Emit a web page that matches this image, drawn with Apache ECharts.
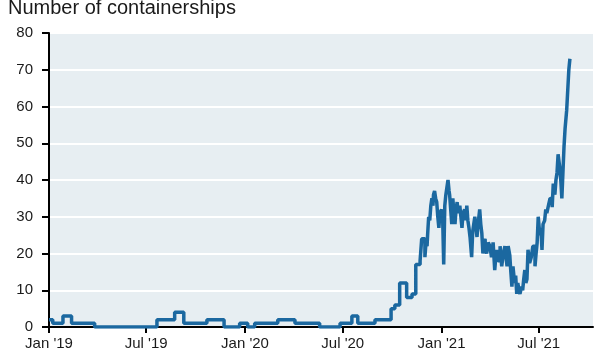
<!DOCTYPE html>
<html>
<head>
<meta charset="utf-8">
<script src="https://cdn.jsdelivr.net/npm/echarts@6/dist/echarts.min.js"></script>
<style>
html,body{margin:0;padding:0;background:#fff;}
#chart{width:601px;height:360px;}
</style>
</head>
<body>
<div id="chart"></div>
<script>
const title = 'Number of containerships';
const dates = [
 '2019-01-01','2019-01-08','2019-01-27','2019-02-12','2019-03-27','2019-07-21','2019-08-23','2019-09-09',
 '2019-10-22','2019-11-23','2019-12-22','2020-01-06','2020-01-19','2020-03-02','2020-04-03','2020-05-19',
 '2020-06-26','2020-07-18','2020-07-29','2020-08-30','2020-09-29','2020-10-06','2020-10-15','2020-10-28',
 '2020-11-07','2020-11-14','2020-11-22','2020-11-25','2020-12-01','2020-12-03','2020-12-05','2020-12-06',
 '2020-12-08','2020-12-10','2020-12-12','2020-12-14','2020-12-16','2020-12-17','2020-12-19','2020-12-21',
 '2020-12-23','2020-12-25','2020-12-27','2020-12-29','2021-01-01','2021-01-03','2021-01-05','2021-01-07',
 '2021-01-09','2021-01-11','2021-01-13','2021-01-15','2021-01-16','2021-01-18','2021-01-20','2021-01-22',
 '2021-01-24','2021-01-26','2021-01-28','2021-01-30','2021-02-01','2021-02-04','2021-02-06','2021-02-08',
 '2021-02-10','2021-02-13','2021-02-15','2021-02-17','2021-02-19','2021-02-21','2021-02-23','2021-02-26',
 '2021-02-28','2021-03-02','2021-03-04','2021-03-06','2021-03-08','2021-03-10','2021-03-13','2021-03-15',
 '2021-03-17','2021-03-19','2021-03-21','2021-03-23','2021-03-24','2021-03-26','2021-03-29','2021-04-01',
 '2021-04-04','2021-04-07','2021-04-10','2021-04-12','2021-04-14','2021-04-16','2021-04-20','2021-04-23',
 '2021-04-26','2021-04-29','2021-05-01','2021-05-03','2021-05-05','2021-05-08','2021-05-10','2021-05-12',
 '2021-05-14','2021-05-17','2021-05-19','2021-05-21','2021-05-23','2021-05-25','2021-05-27','2021-05-30',
 '2021-06-01','2021-06-03','2021-06-05','2021-06-07','2021-06-09','2021-06-11','2021-06-14','2021-06-17',
 '2021-06-20','2021-06-24','2021-06-26','2021-06-28','2021-06-30','2021-07-03','2021-07-05','2021-07-07',
 '2021-07-09','2021-07-12','2021-07-14','2021-07-16','2021-07-19','2021-07-22','2021-07-26','2021-07-28',
 '2021-07-31','2021-08-02','2021-08-04','2021-08-06','2021-08-09','2021-08-11','2021-08-13','2021-08-15',
 '2021-08-17','2021-08-19','2021-08-22','2021-08-24','2021-08-26','2021-08-28'
];
const values = [
 2,1,3,1,0,2,4,1,
 2,0,1,0,1,2,1,0,
 1,3,1,2,5,6,12,8,
 9,17,18,24,19,23,22,25,
 30,29,33,35,33,36,37,35,
 34,30,27,31,32,30,17,33,
 36,38,40,37,36,32,28,35,
 31,28,32,34,31,33,30,27,
 31,32,29,33,29,27,24.5,19,
 26,28,30,27,24.5,28,32,28,
 25.5,20,23,24,21,20,23,22,
 19,23,15.5,19,21,18,22,16.5,
 20,22,19,16.5,22,19.6,15,11,
 16.5,12,14,9,12,10,9,11,
 10,13,15.5,12,13,21,17.4,19,
 22,16.5,20,23,30,25,27,21,
 28,29,32,31,33,35,32.6,39,
 36,40,42,47,43.5,40,35,42,
 49,54,59,64.5,70,73
];
const xTickDates = ['2019-01-01','2019-07-01','2020-01-01','2020-07-01','2021-01-01','2021-07-01'];
const xTickLabels = ["Jan '19","Jul '19","Jan '20","Jul '20","Jan '21","Jul '21"];
const yTicks = [0,10,20,30,40,50,60,70,80];

const ts = d => Date.parse(d + 'T00:00:00Z');
const tickTs = xTickDates.map(ts);
const labelMap = {};
tickTs.forEach((t,i) => labelMap[t] = xTickLabels[i]);

const chart = echarts.init(document.getElementById('chart'), null, {renderer:'canvas'});
chart.setOption({
  animation:false,
  title:{text:title,left:3,top:-7,textStyle:{fontFamily:'Liberation Sans, Arial',fontSize:20,fontWeight:'normal',color:'#1a1a1a'}},
  grid:{left:49,right:8,top:33,bottom:33,show:true,backgroundColor:'#e7eef2',borderWidth:0},
  xAxis:{
    type:'value',
    min:ts('2019-01-01'),
    max:ts('2021-10-10'),
    axisLine:{show:true,lineStyle:{color:'#000',width:2}},
    axisTick:{show:true,customValues:tickTs,length:6,lineStyle:{color:'#000',width:2}},
    axisLabel:{customValues:tickTs,formatter:v => labelMap[v] || '',fontFamily:'Liberation Sans, Arial',fontSize:15,color:'#1a1a1a',margin:9},
    splitLine:{show:false}
  },
  yAxis:{
    type:'value',min:yTicks[0],max:yTicks[yTicks.length-1],interval:10,
    axisLine:{show:true,lineStyle:{color:'#000',width:2}},
    axisTick:{show:true,length:7,lineStyle:{color:'#000',width:2}},
    axisLabel:{fontFamily:'Liberation Sans, Arial',fontSize:15,color:'#1a1a1a',margin:16},
    splitLine:{show:true,lineStyle:{color:'#ffffff',width:2}}
  },
  series:[{
    type:'line',step:'end',showSymbol:false,
    data:dates.map((d,i)=>[ts(d),values[i]]),
    lineStyle:{color:'#1b68a0',width:3.5},
    z:5
  }]
});
</script>
</body>
</html>
